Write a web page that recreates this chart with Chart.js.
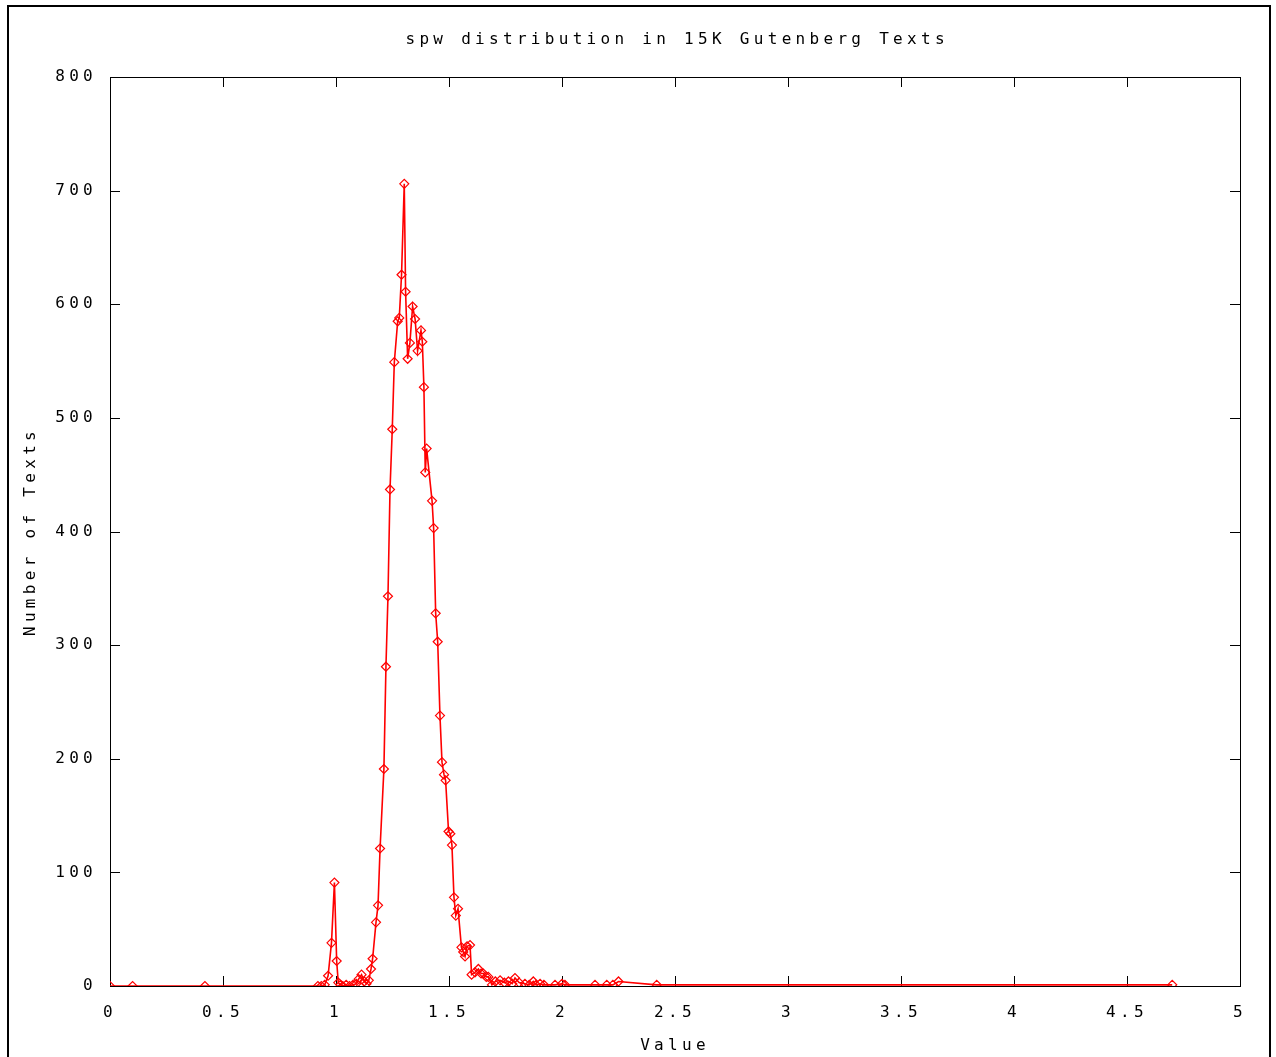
<!DOCTYPE html>
<html>
<head>
<meta charset="utf-8">
<script src="https://cdn.jsdelivr.net/npm/chart.js@4/dist/chart.umd.min.js"></script>
<style>
    html, body { margin: 0; padding: 0; background: #fff; }
    #wrap { width: 1276px; height: 1057px; position: relative; }
</style>
</head>
<body>
<div id="wrap"><canvas id="chart" width="1276" height="1057"></canvas></div>
<script>
'use strict';

const TITLE = 'spw distribution in 15K Gutenberg Texts';
const X_LABEL = 'Value';
const Y_LABEL = 'Number of Texts';

// spw value (x) and number of texts (y)
const spwValues = [
    0, 0.1, 0.42, 0.92, 0.935, 0.95, 0.965, 0.98, 0.993, 1.003,
    1.01, 1.02, 1.03, 1.045, 1.06, 1.075, 1.09, 1.1, 1.113, 1.125,
    1.135, 1.145, 1.155, 1.162, 1.177, 1.186, 1.195, 1.212, 1.221, 1.23,
    1.239, 1.249, 1.258, 1.273, 1.28, 1.29, 1.302, 1.308, 1.317, 1.327,
    1.339, 1.35, 1.361, 1.376, 1.382, 1.389, 1.395, 1.401, 1.425, 1.432,
    1.441, 1.45, 1.46, 1.469, 1.478, 1.485, 1.498, 1.506, 1.513, 1.522,
    1.53, 1.54, 1.555, 1.563, 1.571, 1.58, 1.593, 1.6, 1.615, 1.63,
    1.642, 1.652, 1.665, 1.674, 1.69, 1.705, 1.726, 1.745, 1.763, 1.78,
    1.792, 1.81, 1.836, 1.855, 1.873, 1.885, 1.903, 1.92, 1.969, 2.0,
    2.013, 2.146, 2.198, 2.225, 2.25, 2.419, 4.7
];
const textCounts = [
    0, 0, 0, 0, 0, 1, 9, 38, 91, 22,
    3, 1, 0, 1, 0, 1, 2, 6, 10, 4,
    2, 5, 15, 24, 56, 71, 121, 191, 281, 343,
    437, 490, 549, 585, 588, 626, 706, 611, 552, 566,
    598, 587, 559, 577, 567, 527, 452, 473, 427, 403,
    328, 303, 238, 197, 186, 181, 136, 134, 124, 78,
    62, 68, 34, 30, 26, 35, 36, 10, 12, 15,
    11, 11, 8, 8, 1, 4, 5, 3, 4, 2,
    7, 3, 2, 1, 4, 1, 2, 1, 1, 2,
    1, 1, 1, 1, 4, 1, 1
];

const points = spwValues.map((x, i) => ({ x: x, y: textCounts[i] }));

const FONT = { family: '"DejaVu Sans Mono", monospace', size: 16 };
const SPACING = 4.3;
const TICK_LEN = 10;

// gnuplot style frame: title over the plot box, inward ticks on all four sides, outer border
const framePlugin = {
    id: 'frame',
    beforeDraw(chart) {
        const { ctx, chartArea: a } = chart;
        ctx.letterSpacing = SPACING + 'px';
        ctx.save();
        ctx.fillStyle = '#000';
        ctx.font = `${FONT.size}px ${FONT.family}`;
        ctx.textAlign = 'center';
        ctx.textBaseline = 'middle';
        ctx.fillText(TITLE, (a.left + a.right) / 2 + SPACING / 2, 40);
        ctx.restore();
    },
    beforeDatasetsDraw(chart) {
        const { ctx, chartArea: a, scales } = chart;
        ctx.save();
        ctx.strokeStyle = '#000';
        ctx.lineWidth = 1;
        ctx.beginPath();
        scales.x.ticks.forEach(t => {
            const px = Math.round(scales.x.getPixelForValue(t.value)) + 0.5;
            ctx.moveTo(px, a.bottom);
            ctx.lineTo(px, a.bottom - TICK_LEN);
            ctx.moveTo(px, a.top);
            ctx.lineTo(px, a.top + TICK_LEN);
        });
        scales.y.ticks.forEach(t => {
            const py = Math.round(scales.y.getPixelForValue(t.value)) + 0.5;
            ctx.moveTo(a.left, py);
            ctx.lineTo(a.left + TICK_LEN, py);
            ctx.moveTo(a.right, py);
            ctx.lineTo(a.right - TICK_LEN, py);
        });
        ctx.stroke();
        ctx.strokeRect(Math.round(a.left) + 0.5, Math.round(a.top) + 0.5,
            Math.round(a.right - a.left), Math.round(a.bottom - a.top));
        ctx.restore();
    },
    afterDraw(chart) {
        const ctx = chart.ctx;
        ctx.save();
        ctx.strokeStyle = '#000';
        ctx.lineWidth = 2;
        ctx.strokeRect(8, 6, 1262, 1100);
        ctx.restore();
    }
};

new Chart(document.getElementById('chart'), {
    type: 'scatter',
    data: {
        datasets: [{
            label: 'spw',
            data: points,
            showLine: true,
            borderColor: '#ff0000',
            borderWidth: 1.6,
            pointStyle: 'rectRot',
            pointRadius: 4.5,
            pointBorderWidth: 1.2,
            pointBackgroundColor: 'transparent',
            pointBorderColor: '#ff0000',
            tension: 0
        }]
    },
    options: {
        responsive: false,
        animation: false,
        devicePixelRatio: 1,
        layout: { padding: { left: 0, right: 36, top: 77, bottom: 0 } },
        plugins: {
            legend: { display: false },
            tooltip: { enabled: false },
            title: { display: false }
        },
        scales: {
            x: {
                type: 'linear',
                min: 0,
                max: 5,
                afterFit: s => { s.height = 71; },
                grid: { display: false, drawTicks: false },
                border: { display: false },
                ticks: {
                    stepSize: 0.5,
                    color: '#000',
                    font: FONT,
                    padding: 17,
                    maxRotation: 0,
                    callback: v => String(Number(v))
                },
                title: {
                    display: true,
                    text: X_LABEL,
                    color: '#000',
                    font: FONT,
                    padding: { top: 0, bottom: 2 }
                }
            },
            y: {
                type: 'linear',
                min: 0,
                max: 800,
                afterFit: s => { s.width = 110; },
                grid: { display: false, drawTicks: false },
                border: { display: false },
                ticks: {
                    stepSize: 100,
                    color: '#000',
                    font: FONT,
                    padding: 13
                },
                title: {
                    display: true,
                    text: Y_LABEL,
                    color: '#000',
                    font: FONT,
                    padding: { top: 21, bottom: 0 }
                }
            }
        }
    },
    plugins: [framePlugin]
});
</script>
</body>
</html>
